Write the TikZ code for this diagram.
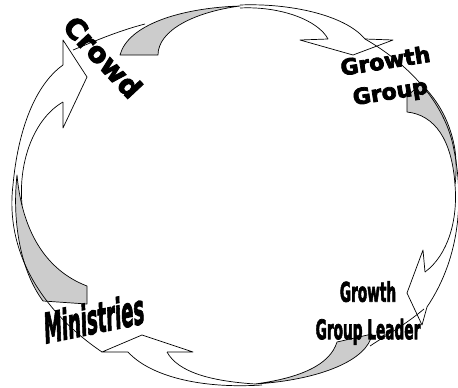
\documentclass[tikz,border=0pt]{standalone}
\usepackage{fontspec}
\usepackage{tikz}
\usepackage{xcolor}
\usetikzlibrary{calc}
\newfontfamily\blackfont[FakeBold=3.5]{DejaVu Sans Bold}
\newfontfamily\narrowfont[FakeBold=3]{DejaVu Sans Bold}
\definecolor{tailgray}{RGB}{204,204,204}

\begin{document}
\begin{tikzpicture}[
  x=1pt, y=-1pt,
  rim/.style={draw=black, line width=0.7pt, line join=round},
  tail/.style={fill=tailgray, draw=black, line width=0.7pt, line join=round},
  wide/.style 2 args={font=\fontsize{#1}{#2}\blackfont, inner sep=0pt, align=center},
  tall/.style 2 args={font=\fontsize{#1}{#2}\narrowfont, inner sep=0pt, align=center, transform shape},
]
\useasboundingbox (0,0) rectangle (458,388);

% Crowd -> Growth Group
\draw[tail] (120,55) -- (158,55) .. controls (158,30) and (195,12) .. (240,6)
  .. controls (180,8) and (128,25) .. (120,55) -- cycle;
\draw[rim] (73,50) .. controls (95,41) and (118,31) .. (145,24);
\draw[rim] (240,5) .. controls (290,3) and (345,15) .. (365,39);
\draw[rim] (240,8) .. controls (280,6) and (318,20) .. (328,39);
\draw[rim] (328,39) -- (300,40) -- (353,55) -- (393,40) -- (365,39);

% Growth Group -> Growth Group Leader
\draw[tail] (407,112) -- (407,96) -- (421,84) .. controls (440,102) and (451,125) .. (455,150)
  .. controls (457,165) and (456,178) .. (455,185)
  .. controls (452,140) and (435,115) .. (407,112) -- cycle;
\draw[rim] (365,39) .. controls (405,62) and (445,100) .. (454,150)
  .. controls (463,195) and (462,255) .. (427,307);
\draw[rim] (455,185) .. controls (458,220) and (448,255) .. (425,272);
\draw[rim] (425,272) -- (423,250) -- (407,293) -- (422,325) -- (427,307);

% Growth Group Leader -> Ministries
\draw[tail] (337,342) -- (372,334) .. controls (368,360) and (320,380) .. (255,384)
  .. controls (300,378) and (330,365) .. (337,342) -- cycle;
\draw[rim] (424,309) .. controls (405,325) and (385,336) .. (370,346);
\draw[rim] (128,352) .. controls (150,376) and (200,389) .. (262,385);
\draw[rim] (167,352) .. controls (178,372) and (210,381) .. (255,384);
\draw[rim] (128,352) -- (102,352) -- (142,335) -- (193,352) -- (167,352);

% Ministries -> Crowd
\draw[tail] (43,301) .. controls (20,270) and (12,220) .. (17,175)
  .. controls (22,230) and (45,270) .. (87,286) -- (87,304) -- cycle;
\draw[rim] (102,352) .. controls (40,310) and (5,250) .. (13,185)
  .. controls (18,130) and (35,85) .. (63,65);
\draw[rim] (22,205) .. controls (18,160) and (35,118) .. (63,102);
\draw[rim] (63,102) -- (63,128) -- (87,77) -- (63,40) -- (63,65);

% labels
\node[wide={28}{30}, rotate=-47] (crowd) at (103,57) {Crowd};
\node[wide={22}{31}, rotate=9] (group) at (388,78) {Growth\\Group};
\node[tall={18}{25}, xscale=0.76, yscale=1.5] (leader) at (368,313) {Growth\\Group Leader};
\node[tall={20}{24}, xscale=0.9, yscale=2.1, rotate=5] (ministries) at (94,318) {Ministries};
\end{tikzpicture}
\end{document}
